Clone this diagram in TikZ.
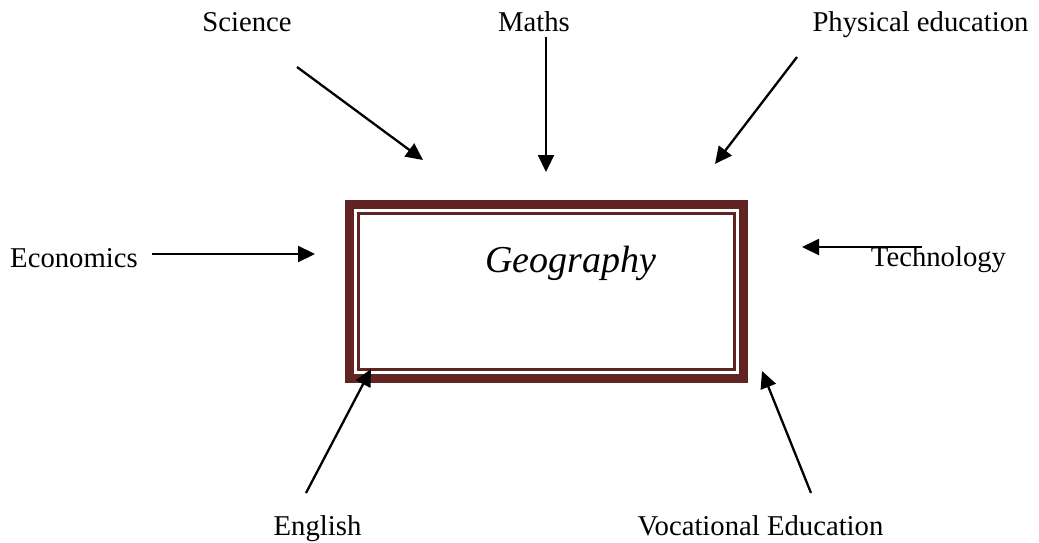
\documentclass[tikz,border=0pt]{standalone}
\usepackage{fontspec}
\setmainfont{Liberation Serif}
\usetikzlibrary{arrows.meta}
\definecolor{frame}{HTML}{622423}
\tikzset{
  lbl/.style={font=\fontsize{28.7}{30}\selectfont, anchor=base, inner sep=0pt},
  arr/.style={line width=2.3pt, -{Triangle[length=17pt,width=16pt]}},
}
\begin{document}
\begin{tikzpicture}[x=1pt,y=-1pt]
\useasboundingbox[fill=white] (0,0) rectangle (1039,543);
% frame
\draw[frame, line width=9pt] (349.5,204.5) rectangle (743.5,378.5);
\draw[frame, line width=3pt] (358.5,213.5) rectangle (734.5,369.5);
\node[font=\fontsize{38}{40}\selectfont\itshape, anchor=base, inner sep=0pt] (geo) at (571,272) {Geography};
% labels
\node[lbl] (sci) at (247,32) {Science};
\node[lbl] (mat) at (534,32) {Maths};
\node[lbl] (phy) at (920.5,32) {Physical education};
\node[lbl] (eco) at (74,267) {Economics};
\node[lbl] (tec) at (938.5,266) {Technology};
\node[lbl] (eng) at (317.5,535) {English};
\node[lbl] (voc) at (760.5,535) {Vocational Education};
% arrow ends
\coordinate (sciS) at (297,67);   \coordinate (sciE) at (423,160);
\coordinate (matS) at (546,37);   \coordinate (matE) at (546,172);
\coordinate (phyS) at (797,57);   \coordinate (phyE) at (715,164);
\coordinate (ecoS) at (152,254);  \coordinate (ecoE) at (315,254);
\coordinate (tecS) at (922,247);  \coordinate (tecE) at (802,247);
\coordinate (engS) at (306,493);  \coordinate (engE) at (371,369);
\coordinate (vocS) at (811,493);  \coordinate (vocE) at (762,371);
\draw[arr] (sciS) -- (sciE);
\draw[arr] (matS) -- (matE);
\draw[arr] (phyS) -- (phyE);
\draw[arr] (ecoS) -- (ecoE);
\draw[arr] (tecS) -- (tecE);
\draw[arr] (engS) -- (engE);
\draw[arr] (vocS) -- (vocE);
\end{tikzpicture}
\end{document}
